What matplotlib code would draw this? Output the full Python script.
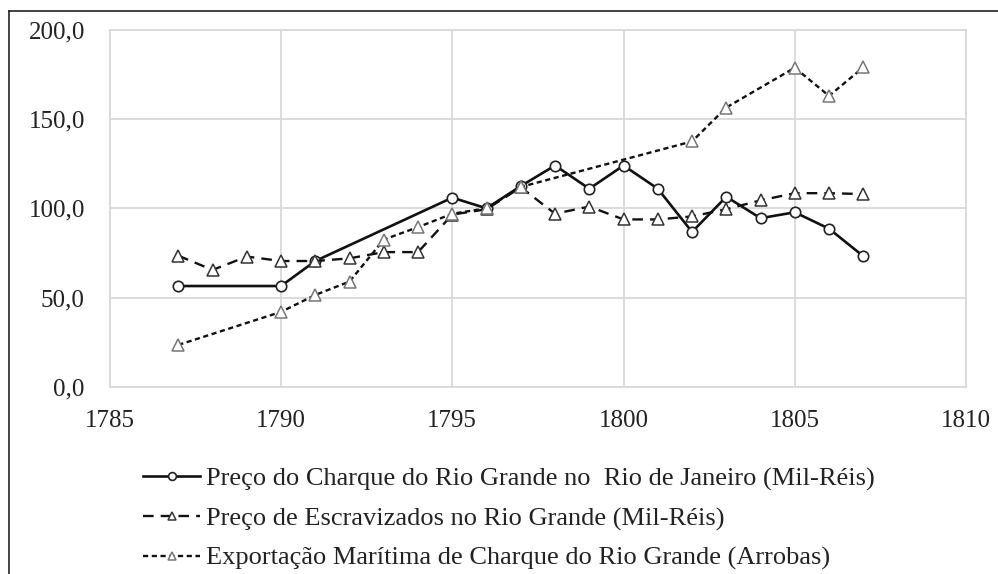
import matplotlib
matplotlib.use('Agg')
import matplotlib.pyplot as plt
from matplotlib.lines import Line2D
from matplotlib.ticker import FuncFormatter

# Preço do Charque do Rio Grande no Rio de Janeiro (Mil-Réis)
anos_charque = [1787, 1790, 1791, 1795, 1796, 1797, 1798, 1799, 1800, 1801, 1802, 1803, 1804, 1805, 1806, 1807]
preco_charque = [56.5, 56.5, 70.5, 106.0, 100.0, 112.5, 124.0, 111.0, 124.0, 111.0, 86.8, 106.5, 94.5, 97.8, 88.6, 73.2]

# Preço de Escravizados no Rio Grande (Mil-Réis)
anos_escravos = list(range(1787, 1808))
preco_escravos = [73.5, 65.5, 73.0, 70.5, 70.5, 72.0, 75.5, 75.5, 96.5, 99.5, 111.8, 97.0, 101.0, 93.8, 93.8, 95.5,
                  99.5, 104.5, 108.5, 108.5, 108.0]

# Exportação Marítima de Charque do Rio Grande (Arrobas)
anos_export = [1787, 1790, 1791, 1792, 1793, 1794, 1795, 1796, 1797, 1802, 1803, 1805, 1806, 1807]
export_charque = [23.5, 42.0, 51.5, 59.0, 82.5, 89.5, 97.0, 100.0, 112.0, 137.5, 156.5, 178.8, 163.0, 179.0]

labels = ['Preço do Charque do Rio Grande no  Rio de Janeiro (Mil-Réis)',
          'Preço de Escravizados no Rio Grande (Mil-Réis)',
          'Exportação Marítima de Charque do Rio Grande (Arrobas)']

plt.rcParams['font.family'] = ['Liberation Serif', 'DejaVu Serif']

fig = plt.figure(figsize=(9.98, 5.74), dpi=100)
ax = fig.add_axes([0.110, 0.326, 0.858, 0.622])

grid_col = '#d9d9d9'

ax.plot(anos_charque, preco_charque, color='#111111', linewidth=1.9, marker='o',
        markersize=7.5, markerfacecolor='white', markeredgecolor='#222222', markeredgewidth=1.2,
        label=labels[0])
ax.plot(anos_escravos, preco_escravos, color='#111111', linewidth=1.7, linestyle=(0, (4.5, 3)),
        marker='^', markersize=8, markerfacecolor='white', markeredgecolor='#333333',
        markeredgewidth=1.1, label=labels[1])
ax.plot(anos_export, export_charque, color='#111111', linewidth=1.7, linestyle=(0, (2.2, 1.5)),
        marker='^', markersize=8, markerfacecolor='white', markeredgecolor='#777777',
        markeredgewidth=1.1, label=labels[2])

ax.set_xlim(1785, 1810)
ax.set_ylim(0, 200)
ax.set_xticks(range(1785, 1811, 5))
ax.set_yticks(range(0, 201, 50))
ax.yaxis.set_major_formatter(FuncFormatter(lambda v, p: f'{v:.1f}'.replace('.', ',')))
ax.grid(True, color=grid_col, linewidth=1.3)
ax.set_axisbelow(True)
for s in ax.spines.values():
    s.set_color(grid_col)
    s.set_linewidth(1.3)
ax.tick_params(length=0, labelsize=18, colors='#222222')
ax.tick_params(axis='y', pad=18)
ax.tick_params(axis='x', pad=17)

leg = fig.legend(loc='upper left', bbox_to_anchor=(0.133, 0.205), frameon=False, fontsize=19,
                 handlelength=2.16, handletextpad=0.2, labelspacing=0.6, borderaxespad=0,
                 markerscale=0.75)
for t in leg.get_texts():
    t.set_color('#222222')

# moldura parcial (esquerda e topo)
fig.add_artist(Line2D([9 / 998, 9 / 998], [0, 1 - 11 / 574], color='#222222', linewidth=1.2,
                      transform=fig.transFigure))
fig.add_artist(Line2D([9 / 998, 1], [1 - 11 / 574, 1 - 11 / 574], color='#222222', linewidth=1.2,
                      transform=fig.transFigure))

fig.savefig('out.png', dpi=100)
